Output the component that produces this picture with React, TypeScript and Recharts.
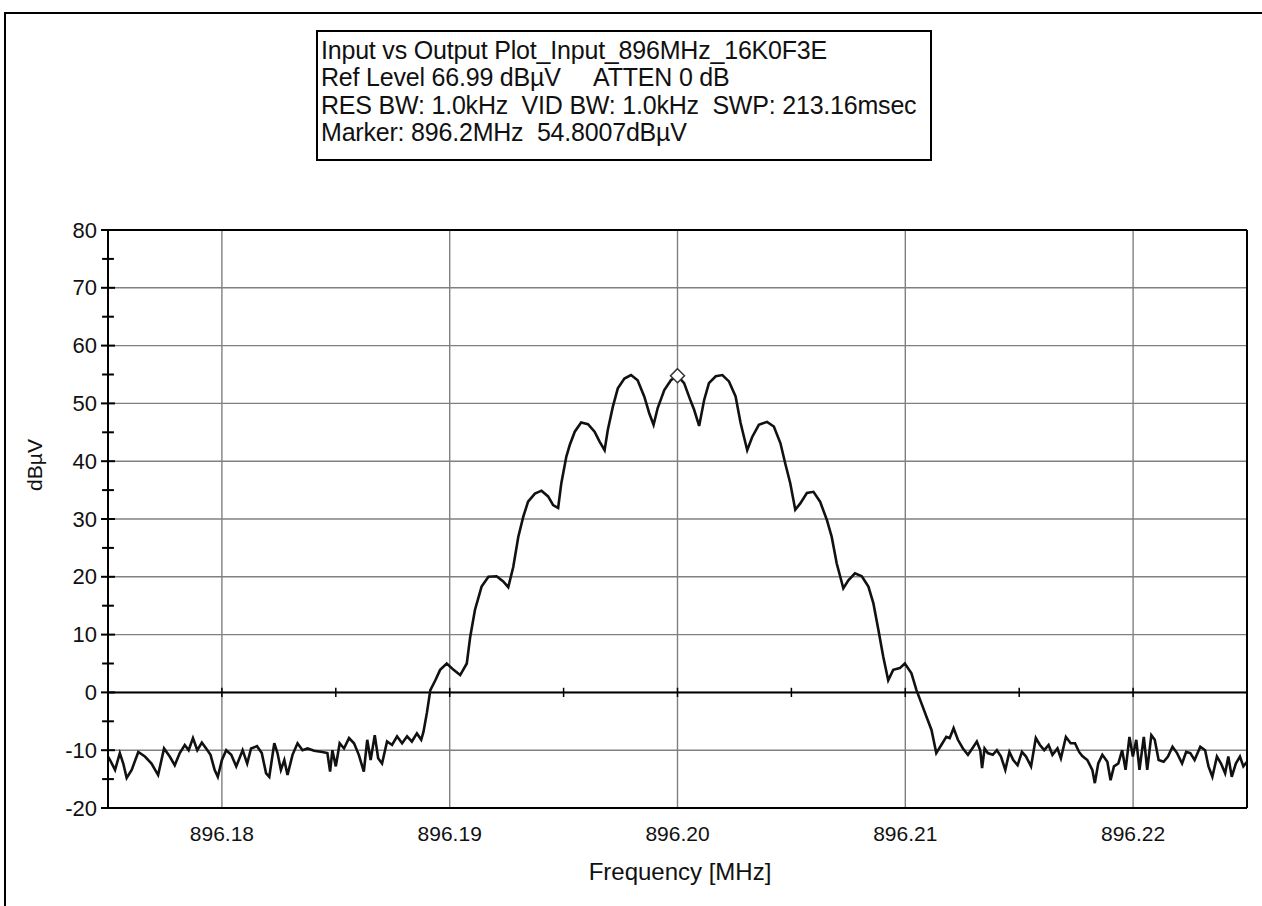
import React from 'react';
import { LineChart, Line, XAxis, YAxis, CartesianGrid, ReferenceLine, ReferenceDot } from 'recharts';

// Offsets from 896.2 MHz in kHz, level in dBµV
const leftNoise: [number, number][] = [
  [-25.0, -11.1], [-24.91, -11.7], [-24.69, -13.4], [-24.48, -10.5], [-24.33, -12.3], [-24.18, -14.8],
  [-23.96, -13.4], [-23.67, -10.3], [-23.38, -11.1], [-23.09, -12.3], [-22.8, -14.3], [-22.54, -9.7],
  [-22.29, -11.1], [-22.07, -12.6], [-21.85, -10.5], [-21.63, -9.1], [-21.46, -10.0], [-21.27, -7.9],
  [-21.08, -10.0], [-20.88, -8.7], [-20.69, -9.7], [-20.5, -10.8], [-20.32, -13.4], [-20.18, -14.6],
  [-20.0, -11.7], [-19.81, -10.0], [-19.59, -10.8], [-19.37, -12.8], [-19.09, -10.0], [-18.89, -12.3],
  [-18.72, -9.7], [-18.46, -9.3], [-18.25, -10.5], [-18.06, -14.0], [-17.92, -14.6], [-17.7, -8.8],
  [-17.56, -10.5], [-17.41, -13.4], [-17.26, -11.7], [-17.12, -14.3], [-16.9, -10.8], [-16.68, -8.8],
  [-16.46, -10.0], [-16.24, -9.7], [-15.95, -10.1], [-15.59, -10.3], [-15.37, -10.5], [-15.25, -13.7],
  [-15.15, -10.0], [-15.0, -12.8], [-14.83, -8.8], [-14.64, -9.7], [-14.42, -7.9], [-14.2, -8.8],
  [-13.99, -10.8], [-13.77, -13.7], [-13.62, -8.2], [-13.47, -11.7], [-13.29, -7.4], [-13.14, -11.4],
  [-12.97, -12.3], [-12.75, -8.5], [-12.53, -9.1], [-12.31, -7.6], [-12.09, -8.8], [-11.87, -7.6],
  [-11.66, -8.5], [-11.44, -7.1], [-11.25, -8.2], [-11.15, -6.8],
];

const mainLobe: [number, number][] = [
  [-11.0, -3.5], [-10.85, 0.4], [-10.63, 2.1], [-10.42, 3.9], [-10.13, 5.0], [-9.83, 3.9], [-9.54, 3.0],
  [-9.25, 5.0], [-9.1, 9.6], [-8.89, 14.3], [-8.6, 18.3], [-8.3, 20.0], [-7.94, 20.1], [-7.65, 19.2],
  [-7.43, 18.2], [-7.21, 21.7], [-6.99, 26.9], [-6.77, 30.4], [-6.56, 33.0], [-6.26, 34.4], [-5.97, 34.9],
  [-5.68, 33.9], [-5.46, 32.4], [-5.24, 31.9], [-5.1, 36.2], [-4.88, 40.8], [-4.73, 42.8], [-4.51, 45.1],
  [-4.23, 46.7], [-3.93, 46.4], [-3.64, 45.1], [-3.42, 43.4], [-3.2, 41.9], [-3.06, 45.4], [-2.84, 49.4],
  [-2.62, 52.6], [-2.33, 54.3], [-2.04, 54.9], [-1.75, 54.0], [-1.46, 51.2], [-1.24, 48.3], [-1.05, 46.3],
  [-0.87, 49.2], [-0.58, 52.3], [-0.29, 54.0], [0, 54.8], [0.29, 53.5], [0.58, 50.4], [0.73, 48.9],
  [0.95, 46.1], [1.17, 50.6], [1.38, 53.5], [1.68, 54.7], [1.97, 54.9], [2.26, 53.8], [2.55, 51.2],
  [2.77, 46.6], [3.06, 41.9], [3.28, 44.2], [3.57, 46.3], [3.93, 46.8], [4.23, 46.0], [4.52, 43.1],
  [4.73, 39.6], [4.95, 36.2], [5.17, 31.6], [5.39, 32.7], [5.68, 34.5], [5.97, 34.7], [6.26, 33.0],
  [6.56, 29.8], [6.77, 26.9], [6.99, 22.3], [7.28, 18.0], [7.5, 19.4], [7.79, 20.6], [8.09, 20.1],
  [8.38, 18.3], [8.6, 15.4], [8.82, 10.8], [9.03, 6.2], [9.25, 2.1], [9.47, 3.9], [9.76, 4.2], [9.98, 5.0],
  [10.27, 3.3], [10.49, 0.4], [10.71, -1.9], [10.93, -4.2], [11.15, -6.5],
];

const rightNoise: [number, number][] = [
  [11.36, -10.5], [11.58, -9.1], [11.8, -7.7], [11.95, -7.9], [12.12, -6.2], [12.31, -8.2], [12.53, -9.7],
  [12.75, -10.8], [12.94, -9.7], [13.14, -8.5], [13.29, -10.0], [13.37, -13.1], [13.48, -9.7], [13.62, -10.5],
  [13.84, -10.8], [14.02, -10.0], [14.2, -11.1], [14.39, -13.4], [14.57, -10.3], [14.74, -11.7], [14.93, -12.6],
  [15.12, -10.3], [15.3, -11.1], [15.52, -12.8], [15.73, -7.9], [15.91, -9.1], [16.1, -10.0], [16.29, -9.1],
  [16.46, -10.8], [16.68, -9.7], [16.83, -11.4], [17.05, -7.7], [17.26, -8.8], [17.45, -8.8], [17.63, -10.3],
  [17.77, -11.0], [17.99, -11.7], [18.21, -13.4], [18.32, -15.7], [18.47, -12.3], [18.65, -10.8], [18.87, -12.0],
  [19.01, -15.2], [19.16, -12.8], [19.35, -12.3], [19.52, -10.0], [19.67, -13.4], [19.84, -7.7], [19.99, -11.1],
  [20.14, -8.2], [20.28, -13.4], [20.47, -7.7], [20.62, -13.4], [20.8, -7.4], [20.95, -8.2], [21.12, -11.7],
  [21.34, -12.0], [21.53, -11.1], [21.73, -9.4], [21.93, -10.5], [22.15, -12.3], [22.33, -10.3], [22.51, -10.5],
  [22.7, -11.7], [22.95, -9.4], [23.16, -10.0], [23.31, -12.8], [23.48, -14.6], [23.68, -11.1], [23.86, -12.3],
  [24.04, -14.0], [24.18, -11.1], [24.33, -14.6], [24.51, -12.3], [24.69, -11.1], [24.84, -12.8], [25.0, -12.0],
];

const centerMHz = 896.2;
const xTicks = [896.18, 896.19, 896.2, 896.21, 896.22];
const xMinorTicks = [896.18, 896.185, 896.19, 896.195, 896.2, 896.205, 896.21, 896.215, 896.22];
const yTicks = [-20, -10, 0, 10, 20, 30, 40, 50, 60, 70, 80];
const yMinorTicks = [-15, -5, 5, 15, 25, 35, 45, 55, 65, 75];
const markerPoint = { f: 896.2, v: 54.8 };

const titleLines = [
  'Input vs Output Plot_Input_896MHz_16K0F3E',
  'Ref Level 66.99 dBµV     ATTEN 0 dB',
  'RES BW: 1.0kHz  VID BW: 1.0kHz  SWP: 213.16msec',
  'Marker: 896.2MHz  54.8007dBµV',
];

const data = [...leftNoise, ...mainLobe, ...rightNoise].map(([k, v]) => ({ f: centerMHz + k / 1000, v }));

const FONT = '"Liberation Sans", Arial, sans-serif';
const X_MIN = 896.175;
const X_MAX = 896.225;
const TICK_HALF = 0.00026; // ~6px in MHz

const YTick = (props: any) => {
  const { x, y, payload } = props;
  const ax = x + 11;
  return (
    <g>
      <line x1={ax - 7} x2={ax + 7} y1={y} y2={y} stroke="#000" strokeWidth={2} />
      <text x={x} y={y} textAnchor="end" dominantBaseline="central" fontSize={22} fontFamily={FONT} fill="#111">
        {payload.value}
      </text>
    </g>
  );
};

const Diamond = (props: any) => {
  const { cx, cy } = props;
  if (cx == null || cy == null) return null;
  const r = 7;
  return (
    <polygon
      points={`${cx},${cy - r} ${cx + r},${cy} ${cx},${cy + r} ${cx - r},${cy}`}
      fill="#fff"
      stroke="#333"
      strokeWidth={1.5}
    />
  );
};

export default function App() {
  return (
    <div style={{ position: 'absolute', left: 0, top: 0, width: 1262, height: 906, background: '#fff', fontFamily: FONT }}>
      <div style={{ position: 'absolute', left: 4, top: 12, width: 1262, height: 900, borderTop: '2px solid #000', borderLeft: '2px solid #000' }} />
      <div
        style={{
          position: 'absolute', left: 316, top: 30, width: 616, height: 131, border: '2px solid #000',
          boxSizing: 'border-box', padding: '5px 0 0 3px', fontSize: 25, lineHeight: '27.3px', color: '#111',
          whiteSpace: 'pre', letterSpacing: '-0.2px',
        }}
      >
        {titleLines.map((t) => (
          <div key={t}>{t}</div>
        ))}
      </div>
      <div style={{ position: 'absolute', left: 0, top: 0 }}>
        <LineChart width={1262} height={906} data={data} margin={{ top: 230, right: 15, bottom: 38, left: 48 }}>
          <CartesianGrid stroke="#808080" strokeWidth={1.4} />
          <XAxis
            dataKey="f"
            type="number"
            domain={[X_MIN, X_MAX]}
            ticks={xTicks}
            tickFormatter={(v: number) => v.toFixed(2)}
            tickLine={false}
            tickMargin={12}
            height={60}
            axisLine={{ stroke: '#000', strokeWidth: 2 }}
            tick={{ fontSize: 21, fontFamily: FONT, fill: '#111' }}
            allowDataOverflow
          />
          <YAxis
            type="number"
            domain={[-20, 80]}
            ticks={yTicks}
            width={60}
            tickSize={6}
            tickMargin={5}
            tickLine={false}
            axisLine={{ stroke: '#000', strokeWidth: 2 }}
            tick={<YTick />}
            allowDataOverflow
          />
          <ReferenceLine y={80} stroke="#000" strokeWidth={2} />
          <ReferenceLine x={X_MAX} stroke="#000" strokeWidth={2} />
          <ReferenceLine y={0} stroke="#000" strokeWidth={2} />
          {yMinorTicks.map((t) => (
            <ReferenceLine
              key={'ym' + t}
              segment={[{ x: X_MIN - TICK_HALF, y: t }, { x: X_MIN + TICK_HALF, y: t }]}
              stroke="#000"
              strokeWidth={2}
              ifOverflow="visible"
            />
          ))}
          {xMinorTicks.map((t) => (
            <ReferenceLine
              key={'xm' + t}
              segment={[{ x: t, y: -0.8 }, { x: t, y: 0.8 }]}
              stroke="#000"
              strokeWidth={1.5}
              ifOverflow="visible"
            />
          ))}
          <Line type="linear" dataKey="v" stroke="#111" strokeWidth={2.6} dot={false} isAnimationActive={false} />
          <ReferenceDot x={markerPoint.f} y={markerPoint.v} shape={<Diamond />} ifOverflow="visible" />
        </LineChart>
      </div>
      <div
        style={{
          position: 'absolute', left: 35, top: 465, transform: 'translate(-50%, -50%) rotate(-90deg)',
          fontSize: 21, color: '#111', whiteSpace: 'nowrap',
        }}
      >
        dBµV
      </div>
      <div
        style={{
          position: 'absolute', left: 680, top: 872, transform: 'translate(-50%, -50%)',
          fontSize: 24, color: '#111', whiteSpace: 'nowrap',
        }}
      >
        Frequency [MHz]
      </div>
    </div>
  );
}
